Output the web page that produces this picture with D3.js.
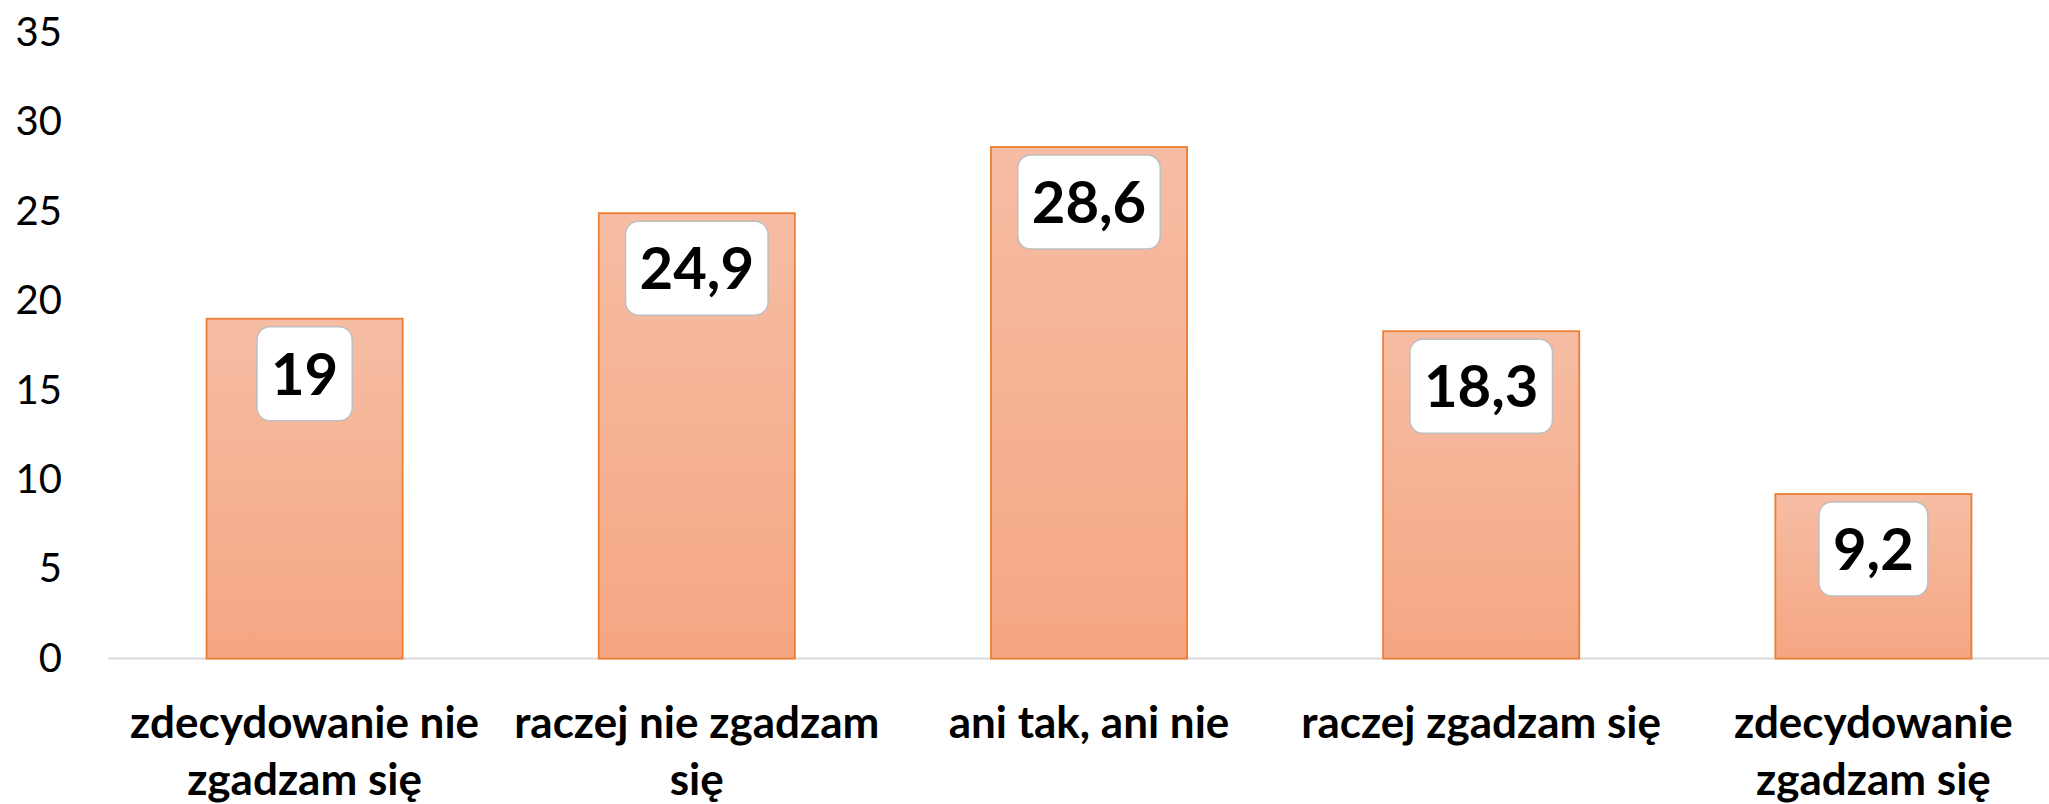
<!DOCTYPE html>
<html>
<head>
<meta charset="utf-8">
<script src="https://cdn.jsdelivr.net/npm/d3@7"></script>
<style>
  html, body { margin: 0; padding: 0; background: #fff; }
  svg { display: block; }
  text { font-family: Lato, "Open Sans", sans-serif; }
</style>
</head>
<body>
<svg width="2049" height="804"></svg>
<script>
var categories = ['zdecydowanie nie zgadzam się', 'raczej nie zgadzam się', 'ani tak, ani nie', 'raczej zgadzam się', 'zdecydowanie zgadzam się'];
var catLines = [['zdecydowanie nie', 'zgadzam się'], ['raczej nie zgadzam', 'się'], ['ani tak, ani nie'], ['raczej zgadzam się'], ['zdecydowanie', 'zgadzam się']];
var values = [19, 24.9, 28.6, 18.3, 9.2];
var valueLabels = ['19', '24,9', '28,6', '18,3', '9,2'];
var yTicks = [0, 5, 10, 15, 20, 25, 30, 35];

var svg = d3.select('svg');

var x = d3.scaleBand().domain(categories).range([108.5, 2069.5]).paddingInner(0.5).paddingOuter(0.25);
var y = d3.scaleLinear().domain([0, 35]).range([658.6, 32.5]);

var defs = svg.append('defs');
var grad = defs.append('linearGradient').attr('id', 'barGrad')
	.attr('x1', 0).attr('y1', 0).attr('x2', 0).attr('y2', 1);
grad.append('stop').attr('offset', '0%').attr('stop-color', '#f6bda4');
grad.append('stop').attr('offset', '100%').attr('stop-color', '#f5a682');

// y axis labels (no line)
var yAxis = d3.axisLeft(y).tickValues(yTicks).tickSize(0).tickPadding(0);
var gy = svg.append('g').attr('transform', 'translate(62,0)').call(yAxis);
gy.select('.domain').remove();
gy.selectAll('text')
	.attr('font-family', 'Lato, sans-serif')
	.attr('font-size', 40)
	.attr('fill', '#000');

// baseline
svg.append('line')
	.attr('x1', 108).attr('x2', 2049)
	.attr('y1', y(0)).attr('y2', y(0))
	.attr('stroke', '#d9d9d9').attr('stroke-width', 2);

// bars
svg.selectAll('rect.bar').data(values)
	.enter()
	.append('rect')
	.attr('class', 'bar')
	.attr('x', function(d, i){ return x(categories[i]); })
	.attr('y', function(d){ return y(d); })
	.attr('width', x.bandwidth())
	.attr('height', function(d){ return y(0) - y(d); })
	.attr('fill', 'url(#barGrad)')
	.attr('stroke', '#ed7d31')
	.attr('stroke-width', 1.8);

// value labels in rounded boxes
var lbl = svg.selectAll('g.lbl').data(values)
	.enter()
	.append('g')
	.attr('class', 'lbl');

lbl.each(function(d, i){
	var g = d3.select(this);
	var cx = x(categories[i]) + x.bandwidth() / 2;
	var top = y(d) + 8;
	var h = 94;
	var rect = g.append('rect');
	var t = g.append('text')
		.attr('x', cx)
		.attr('y', top + h / 2)
		.attr('dy', '0.36em')
		.attr('text-anchor', 'middle')
		.attr('font-size', 58)
		.attr('font-weight', 'bold')
		.attr('fill', '#000')
		.text(valueLabels[i]);
	var w = t.node().getComputedTextLength() + 28;
	rect.attr('x', cx - w / 2)
		.attr('y', top)
		.attr('width', w)
		.attr('height', h)
		.attr('rx', 13)
		.attr('fill', '#fff')
		.attr('stroke', '#bfbfbf')
		.attr('stroke-width', 1.5);
});

// category labels
var xl = svg.selectAll('text.cat').data(catLines)
	.enter()
	.append('text')
	.attr('class', 'cat')
	.attr('text-anchor', 'middle')
	.attr('font-size', 44)
	.attr('font-weight', 'bold')
	.attr('fill', '#000');

xl.each(function(lines, i){
	var t = d3.select(this);
	var cx = x(categories[i]) + x.bandwidth() / 2;
	lines.forEach(function(s, k){
		t.append('tspan')
			.attr('x', cx)
			.attr('y', 723 + k * 57)
			.attr('dy', '0.35em')
			.text(s);
	});
});
</script>
</body>
</html>
